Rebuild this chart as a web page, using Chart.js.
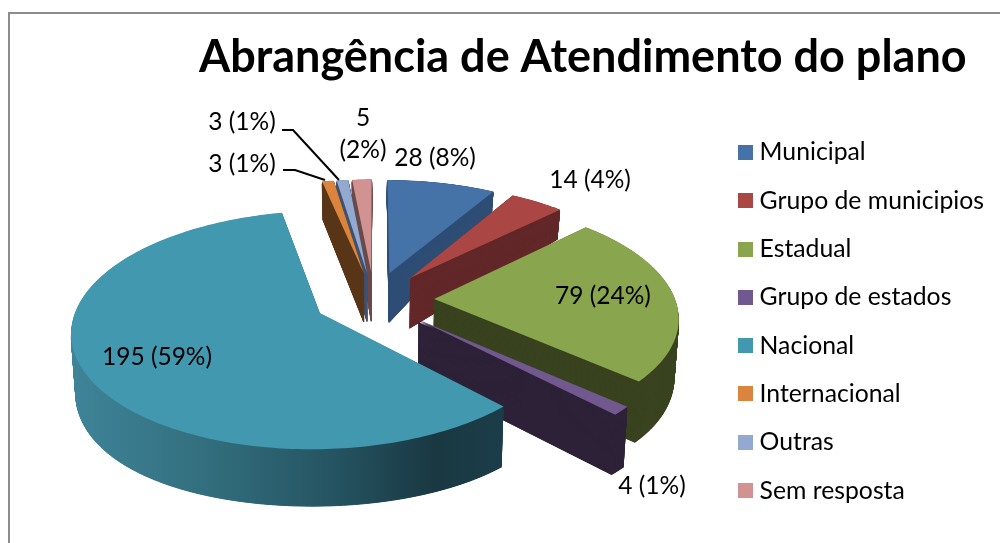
<!DOCTYPE html>
<html>
<head>
<meta charset="utf-8">
<script src="https://cdn.jsdelivr.net/npm/chart.js@4"></script>
<style>
    html, body { margin: 0; padding: 0; background: #fff; overflow: hidden; }
    canvas { display: block; }
</style>
</head>
<body>
<canvas id="grafico" width="1000" height="543"></canvas>
<script>
const categorias = ["Municipal", "Grupo de municipios", "Estadual", "Grupo de estados", "Nacional", "Internacional", "Outras", "Sem resposta"];
const valores = [28, 14, 79, 4, 195, 3, 3, 5];
const cores = ["#4572a7", "#aa4643", "#89a54e", "#71588f", "#4198af", "#db843d", "#93a9cf", "#d19392"];
const coresParede = ["#2e4d75", "#632829", "#39431f", "#2d2238", null, "#5a3618", "#3f5272", "#6b4a4a"];
const titulo = "Abrangência de Atendimento do plano";

// where each value label sits, [x, y] of the text centre
const posRotulos = [[435, 158], [590, 180], [603, 296], [652, 486], [157, 357], [242, 164], [242, 122], [363, 134]];
// slices are painted back to front
const ordem = [7, 6, 5, 0, 1, 2, 3, 4];

// perspective of the pie: top face and bottom face of the cake
const CX = 374, CY = 299.6, RX = 241, RY = 113, K_TOP = 0.14;
const CY_BASE = 354, RY_BASE = 131.6, K_BASE = 0.03;
const EXPLODE = 0.25, CAMADAS = 120;
const FONTE = "Lato, Carlito, sans-serif";

const toScreen = (U, V, t) => {
    const s = 1 / (1 + K_TOP * V);
    const xTop = CX + RX * U * s;
    const yTop = CY - RY * V * s;
    const xBase = CX + RX * U * s * 0.985;
    // the far left of the base hangs a bit lower than the rest
    const sag = 65 * Math.max(0, V - 0.3) * Math.max(0, 0.1 - U);
    const yBase = CY_BASE - RY_BASE * V / (1 + K_BASE * V) + sag;
    return [xTop + (xBase - xTop) * t, yTop + (yBase - yTop) * t];
};

// stands in for the canvas context while an arc draws itself, bending its path into perspective
const perspectiveCtx = (ctx, arc, t) => {
    const meio = (arc.startAngle + arc.endAngle) / 2;
    const R = arc.outerRadius;
    const map = (px, py) => toScreen((px - arc.x) / R + EXPLODE * Math.cos(meio), -(py - arc.y) / R - EXPLODE * Math.sin(meio), t);
    const noop = () => {};
    return {
        save: noop, restore: noop, translate: noop, stroke: noop, clip: noop, setLineDash: noop,
        beginPath: () => ctx.beginPath(),
        closePath: () => ctx.closePath(),
        moveTo: (x, y) => ctx.moveTo(...map(x, y)),
        lineTo: (x, y) => ctx.lineTo(...map(x, y)),
        arc(x, y, r, a0, a1, ccw) {
            let fim = a1;
            if (ccw && fim > a0) fim -= Math.PI * 2;
            const passos = Math.max(2, Math.ceil(Math.abs(fim - a0) / 0.02));
            for (let i = 0; i <= passos; i++) {
                const a = a0 + (fim - a0) * i / passos;
                ctx.lineTo(...map(x + r * Math.cos(a), y + r * Math.sin(a)));
            }
        },
        fill() {
            ctx.fillStyle = this.fillStyle;
            ctx.fill();
            // thin slivers leave gaps between layers, so walls get an outline too,
            // except right under the top face where it would show as a dark fringe
            if (t > 0.05) {
                ctx.strokeStyle = this.fillStyle;
                ctx.lineWidth = 1;
                ctx.stroke();
            }
        },
    };
};

const drawSlice = (ctx, arc, t, fill) => {
    const original = arc.options;
    arc.options = { ...original, backgroundColor: fill };
    arc.draw(perspectiveCtx(ctx, arc, t));
    arc.options = original;
};

const pizza3d = {
    id: "pizza3d",
    beforeDatasetsDraw(chart) {
        const ctx = chart.ctx;
        const arcs = chart.getDatasetMeta(0).data;

        const gradNacional = ctx.createLinearGradient(70, 0, 500, 0);
        gradNacional.addColorStop(0, "#3f8499");
        gradNacional.addColorStop(0.3, "#33707f");
        gradNacional.addColorStop(0.6, "#265563");
        gradNacional.addColorStop(0.85, "#193842");
        gradNacional.addColorStop(1, "#1b3d49");

        ordem.forEach((i) => {
            const parede = coresParede[i] || gradNacional;
            for (let c = CAMADAS; c > 0; c--) {
                drawSlice(ctx, arcs[i], c / CAMADAS, parede);
            }
            drawSlice(ctx, arcs[i], 0, cores[i]);
        });
        return false;
    },
    afterDraw(chart) {
        const ctx = chart.ctx;
        const total = valores.reduce((a, b) => a + b, 0);

        // frame of the chart, cut off on the right and at the bottom
        ctx.save();
        ctx.strokeStyle = "#8c8c8c";
        ctx.lineWidth = 2;
        ctx.beginPath();
        ctx.moveTo(9, 543);
        ctx.lineTo(9, 13);
        ctx.lineTo(1000, 13);
        ctx.stroke();

        // leader lines of the two small labels
        ctx.strokeStyle = "#000";
        ctx.lineWidth = 2;
        ctx.beginPath();
        ctx.moveTo(282, 130);
        ctx.lineTo(293, 130);
        ctx.lineTo(339, 180);
        ctx.moveTo(283, 170);
        ctx.lineTo(295, 170);
        ctx.lineTo(325, 180);
        ctx.stroke();

        ctx.fillStyle = "#000";
        ctx.font = "24.5px " + FONTE;
        ctx.textAlign = "center";
        ctx.textBaseline = "middle";
        valores.forEach((v, i) => {
            const pct = `(${Math.round(v / total * 100)}%)`;
            const [x, y] = posRotulos[i];
            if (i === 7) {
                ctx.fillText(String(v), x, y - 16);
                ctx.fillText(pct, x, y + 16);
            } else {
                ctx.fillText(`${v} ${pct}`, x, y);
            }
        });
        ctx.restore();
    },
};

const quadrado = (cor) => {
    const c = document.createElement("canvas");
    c.width = 15;
    c.height = 15;
    const g = c.getContext("2d");
    g.fillStyle = cor;
    g.fillRect(0, 0, 15, 15);
    return c;
};

new Chart(document.getElementById("grafico").getContext("2d"), {
    type: "pie",
    data: {
        labels: categorias,
        datasets: [{ data: valores, backgroundColor: cores, borderWidth: 0 }],
    },
    options: {
        responsive: false,
        animation: false,
        layout: { padding: { left: 199, right: 6 } },
        plugins: {
            tooltip: { enabled: false },
            title: {
                display: true,
                text: titulo,
                align: "start",
                color: "#000",
                font: { family: FONTE, size: 45, weight: "bold" },
                padding: { top: 30, bottom: 16 },
            },
            legend: {
                position: "right",
                align: "center",
                fullSize: false,
                labels: {
                    color: "#000",
                    font: { family: FONTE, size: 24.75 },
                    usePointStyle: true,
                    pointStyleWidth: 4,
                    boxHeight: 15,
                    padding: 23.55,
                    generateLabels: (chart) =>
                        Chart.overrides.pie.plugins.legend.labels.generateLabels(chart).map((item, i) => ({
                            ...item,
                            pointStyle: quadrado(cores[i]),
                        })),
                },
            },
        },
    },
    plugins: [pizza3d],
});
</script>
</body>
</html>
